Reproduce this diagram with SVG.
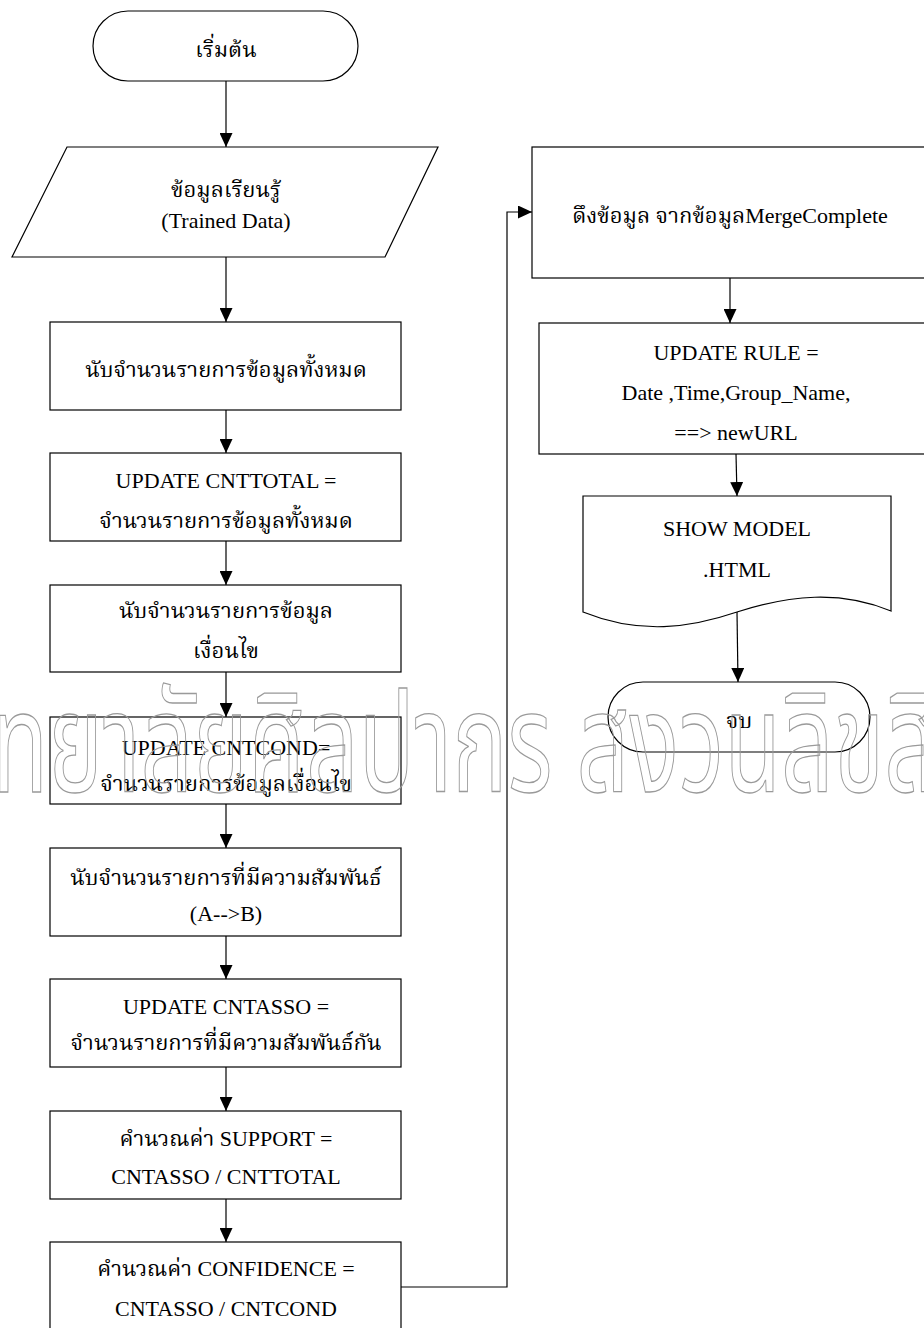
<svg xmlns="http://www.w3.org/2000/svg" width="924" height="1328" viewBox="0 0 924 1328">
<defs>
<style>
.shape{fill:#fff;stroke:#000;stroke-width:1.2}
.t{font-family:"Liberation Serif","Noto Serif Thai","Noto Sans Thai","Noto Sans",serif;font-size:22px;fill:#000;text-anchor:middle}
.c{fill:none;stroke:#000;stroke-width:1.2}
.wm{font-family:"Noto Sans Thai","Noto Serif Thai","Noto Sans",sans-serif;font-size:140px;fill:none;stroke:#9a9a9a;stroke-width:1.3}
</style>
<marker id="ah" viewBox="0 0 14 13" refX="14" refY="6.5" markerWidth="14" markerHeight="13" markerUnits="userSpaceOnUse" orient="auto">
<path d="M0,0 L14,6.5 L0,13 Z" fill="#000"/>
</marker>
</defs>
<rect width="924" height="1328" fill="#fff"/>

<g id="start">
<rect class="shape" x="93" y="11" width="265" height="70" rx="35" ry="35"/>
<text class="t" x="226" y="57">เริ่มต้น</text>
</g>
<g id="input">
<path class="shape" d="M67,147 L438,147 L385,257 L12,257 Z"/>
<text class="t" x="226" y="197">ข้อมูลเรียนรู้</text>
<text class="t" x="226" y="228">(Trained Data)</text>
</g>
<g id="count-total">
<rect class="shape" x="50" y="322" width="351" height="88"/>
<text class="t" x="226" y="377">นับจำนวนรายการข้อมูลทั้งหมด</text>
</g>
<g id="update-cnttotal">
<rect class="shape" x="50" y="453" width="351" height="88"/>
<text class="t" x="226" y="488">UPDATE CNTTOTAL =</text>
<text class="t" x="226" y="528">จำนวนรายการข้อมูลทั้งหมด</text>
</g>
<g id="count-cond">
<rect class="shape" x="50" y="585" width="351" height="87"/>
<text class="t" x="226" y="618">นับจำนวนรายการข้อมูล</text>
<text class="t" x="226" y="658">เงื่อนไข</text>
</g>
<g id="update-cntcond">
<rect class="shape" x="50" y="717" width="351" height="87"/>
<text class="t" x="226" y="755">UPDATE CNTCOND=</text>
<text class="t" x="226" y="791">จำนวนรายการข้อมูลเงื่อนไข</text>
</g>
<g id="count-asso">
<rect class="shape" x="50" y="848" width="351" height="88"/>
<text class="t" x="226" y="885">นับจำนวนรายการที่มีความสัมพันธ์</text>
<text class="t" x="226" y="921">(A--&gt;B)</text>
</g>
<g id="update-cntasso">
<rect class="shape" x="50" y="979" width="351" height="88"/>
<text class="t" x="226" y="1014">UPDATE CNTASSO =</text>
<text class="t" x="226" y="1050">จำนวนรายการที่มีความสัมพันธ์กัน</text>
</g>
<g id="calc-support">
<rect class="shape" x="50" y="1111" width="351" height="88"/>
<text class="t" x="226" y="1146">คำนวณค่า SUPPORT =</text>
<text class="t" x="226" y="1184">CNTASSO / CNTTOTAL</text>
</g>
<g id="calc-confidence">
<rect class="shape" x="50" y="1242" width="351" height="100"/>
<text class="t" x="226" y="1276">คำนวณค่า CONFIDENCE =</text>
<text class="t" x="226" y="1316">CNTASSO / CNTCOND</text>
</g>

<g id="fetch-merge">
<rect class="shape" x="532" y="147" width="410" height="131"/>
<text class="t" x="730" y="223">ดึงข้อมูล จากข้อมูลMergeComplete</text>
</g>
<g id="update-rule">
<rect class="shape" x="539" y="323" width="400" height="131"/>
<text class="t" x="736" y="360">UPDATE RULE =</text>
<text class="t" x="736" y="400">Date ,Time,Group_Name,</text>
<text class="t" x="736" y="440">==&gt; newURL</text>
</g>
<g id="show-model">
<path class="shape" d="M583,496 L891,496 L891,611 C840,590 790,595 737,612 C690,628 640,635 583,612 Z"/>
<text class="t" x="737" y="536">SHOW MODEL</text>
<text class="t" x="737" y="577">.HTML</text>
</g>
<g id="end">
<rect class="shape" x="608" y="682" width="262" height="70" rx="35" ry="35"/>
<text class="t" x="739" y="728">จบ</text>
</g>

<g id="connectors">
<path class="c" d="M226,81 V147" marker-end="url(#ah)"/>
<path class="c" d="M226,257 V322" marker-end="url(#ah)"/>
<path class="c" d="M226,410 V453" marker-end="url(#ah)"/>
<path class="c" d="M226,541 V585" marker-end="url(#ah)"/>
<path class="c" d="M226,672 V717" marker-end="url(#ah)"/>
<path class="c" d="M226,804 V848" marker-end="url(#ah)"/>
<path class="c" d="M226,936 V979" marker-end="url(#ah)"/>
<path class="c" d="M226,1067 V1111" marker-end="url(#ah)"/>
<path class="c" d="M226,1199 V1242" marker-end="url(#ah)"/>
<path class="c" d="M401,1287 H507 V212 H532" marker-end="url(#ah)"/>
<path class="c" d="M730,278 V323" marker-end="url(#ah)"/>
<path class="c" d="M736,454 L737,496" marker-end="url(#ah)"/>
<path class="c" d="M737,612 L738,682" marker-end="url(#ah)"/>
</g>

<text class="wm" x="-8" y="792" textLength="945" lengthAdjust="spacingAndGlyphs">ทยาลัยศิลปากร สงวนลิขสิ</text>
</svg>
